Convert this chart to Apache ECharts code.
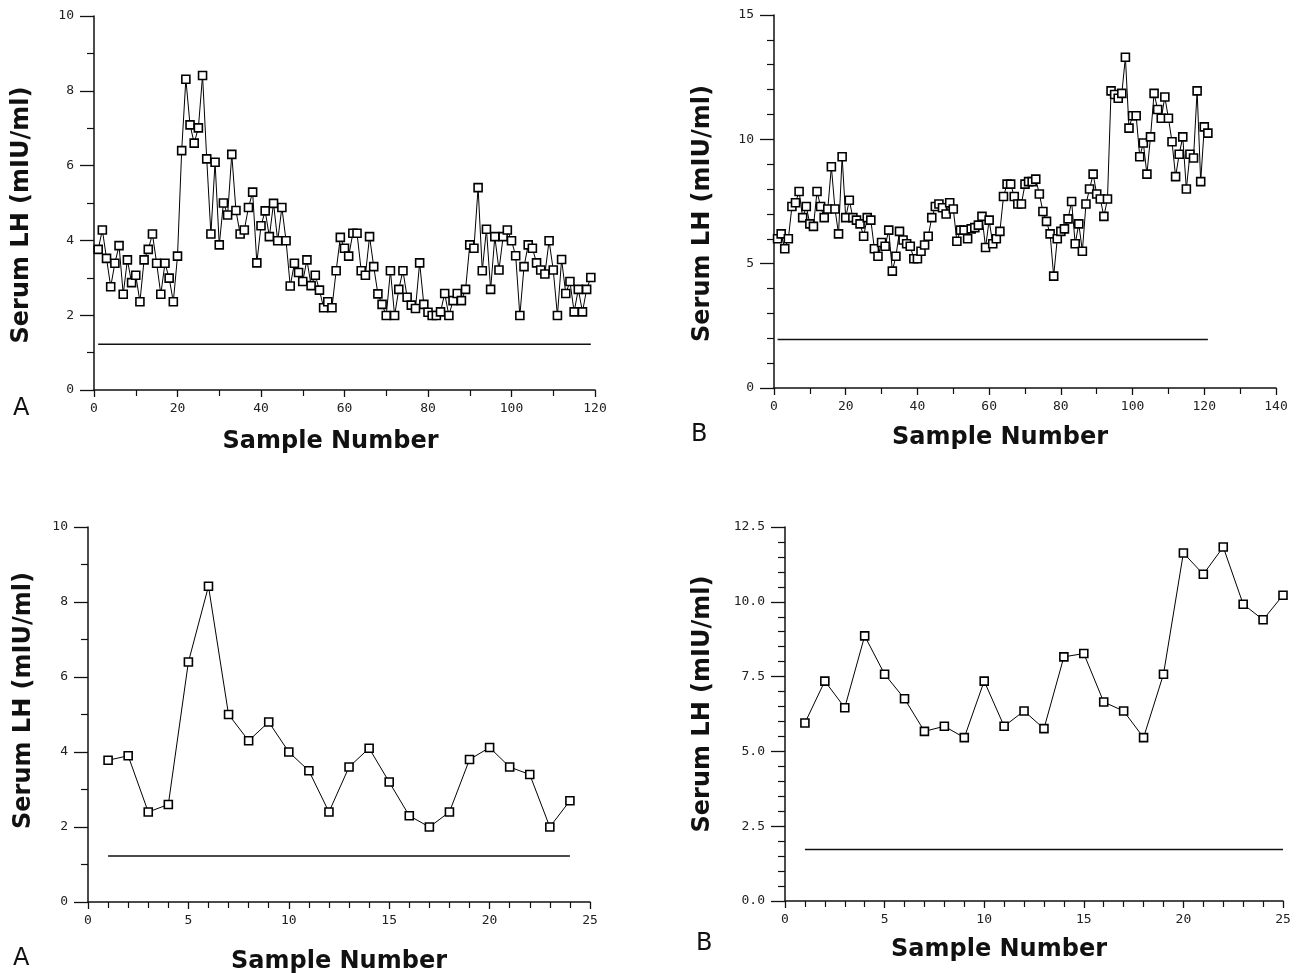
<!DOCTYPE html>
<html><head><meta charset="utf-8">
<script src="https://cdn.jsdelivr.net/npm/echarts@6/dist/echarts.min.js"></script>
<style>html,body{margin:0;padding:0;background:#fff}#c{width:1301px;height:973px}</style>
</head><body><div id="c"></div>
<script>
// Serum LH (mIU/ml) per sample, samples numbered from 1
const lhTopA = [3.76,4.28,3.52,2.76,3.39,3.86,2.56,3.48,2.87,3.07,2.36,3.48,3.76,4.17,3.39,2.56,3.39,2.99,2.36,3.58,
  6.4,8.31,7.09,6.6,7.01,8.41,6.18,4.17,6.09,3.88,5.0,4.68,6.3,4.8,4.17,4.28,4.88,5.29,3.4,4.39,
  4.79,4.1,4.99,3.99,4.88,3.99,2.78,3.39,3.14,2.9,3.48,2.79,3.07,2.67,2.2,2.36,2.2,3.19,4.08,3.79,
  3.58,4.19,4.19,3.19,3.07,4.1,3.3,2.57,2.29,1.99,3.19,1.99,2.69,3.19,2.48,2.27,2.18,3.4,2.29,2.08,
  1.99,1.99,2.09,2.58,1.99,2.39,2.58,2.39,2.69,3.88,3.79,5.41,3.19,4.3,2.69,4.1,3.21,4.1,4.28,3.99,
  3.59,1.99,3.3,3.88,3.79,3.4,3.21,3.1,3.99,3.21,1.99,3.49,2.58,2.9,2.09,2.69,2.09,2.69,3.01];
const lhTopB = [6.0,6.2,5.6,6.0,7.3,7.45,7.9,6.85,7.3,6.6,6.5,7.9,7.3,6.85,7.2,8.9,7.2,6.2,9.3,6.85,
  7.55,6.85,6.75,6.6,6.1,6.85,6.75,5.6,5.3,5.85,5.7,6.35,4.7,5.3,6.3,5.95,5.8,5.7,5.2,5.2,
  5.5,5.75,6.1,6.85,7.3,7.4,7.25,7.0,7.45,7.2,5.9,6.35,6.35,6.0,6.4,6.45,6.55,6.9,5.65,6.75,
  5.8,6.0,6.3,7.7,8.2,8.2,7.7,7.4,7.4,8.2,8.3,8.3,8.4,7.8,7.1,6.7,6.2,4.5,6.0,6.3,
  6.4,6.8,7.5,5.8,6.6,5.5,7.4,8.0,8.6,7.8,7.6,6.9,7.6,11.95,11.8,11.65,11.85,13.3,10.45,10.95,
  10.95,9.3,9.85,8.6,10.1,11.85,11.2,10.85,11.7,10.85,9.9,8.5,9.4,10.1,8.0,9.4,9.25,11.95,8.3,10.5,10.25];
const lhBottomA = [3.78,3.9,2.4,2.6,6.4,8.42,5.0,4.3,4.8,4.0,3.5,2.4,3.6,4.1,3.2,2.3,2.0,2.4,3.8,4.12,3.6,3.4,2.0,2.7];
const lhBottomB = [5.95,7.35,6.46,8.86,7.58,6.76,5.67,5.84,5.46,7.35,5.84,6.35,5.76,8.16,8.27,6.65,6.35,5.46,7.58,11.63,10.92,11.83,9.92,9.4,10.22];
// horizontal reference level in each panel
const thresholdTopA = 1.22, thresholdTopB = 1.95, thresholdBottomA = 1.23, thresholdBottomB = 1.72;
// tick labels
const xTicksTopA = [0,20,40,60,80,100,120];
const yTicksTopA = [0,2,4,6,8,10];
const xTicksTopB = [0,20,40,60,80,100,120,140];
const yTicksTopB = [0,5,10,15];
const xTicksBottomA = [0,5,10,15,20,25];
const yTicksBottomA = [0,2,4,6,8,10];
const xTicksBottomB = [0,5,10,15,20,25];
const yTicksBottomB = [0,2.5,5,7.5,10,12.5];
const xTitle = 'Sample Number';
const yTitle = 'Serum LH (mIU/ml)';
const panelLetters = ['A','B','A','B'];

const panels = [
  {vals: lhTopA, thr: thresholdTopA, xt: xTicksTopA, yt: yTicksTopA, xMinor: 2, yMinor: 2, dec: 0,
   grid: {left: 94, top: 16, width: 501, height: 374}, xGap: 40, xPad: [0,28,0,0], yGap: 60, yPad: [0,24,0,0]},
  {vals: lhTopB, thr: thresholdTopB, xt: xTicksTopB, yt: yTicksTopB, xMinor: 2, yMinor: 5, dec: 0,
   grid: {left: 774, top: 15, width: 502, height: 373}, xGap: 38, xPad: [0,50,0,0], yGap: 59, yPad: [0,24,0,0]},
  {vals: lhBottomA, thr: thresholdBottomA, xt: xTicksBottomA, yt: yTicksBottomA, xMinor: 5, yMinor: 2, dec: 0,
   grid: {left: 88, top: 527, width: 502, height: 375}, xGap: 48, xPad: [0,0,0,0], yGap: 52, yPad: [0,0,0,28]},
  {vals: lhBottomB, thr: thresholdBottomB, xt: xTicksBottomB, yt: yTicksBottomB, xMinor: 5, yMinor: 5, dec: 1,
   grid: {left: 785, top: 527, width: 498, height: 374}, xGap: 37, xPad: [0,70,0,0], yGap: 70, yPad: [0,0,0,20]}
];

const monoFont = 'DejaVu Sans Mono';
const titleStyle = {fontFamily: 'DejaVu Sans', fontWeight: 'bold', fontSize: 24, color: '#111'};

const grids = [], xAxes = [], yAxes = [], series = [];
panels.forEach((p, i) => {
  grids.push(Object.assign({outerBoundsMode: 'none', containLabel: false}, p.grid));
  xAxes.push({
    type: 'value', gridIndex: i,
    min: p.xt[0], max: p.xt[p.xt.length - 1], interval: p.xt[1] - p.xt[0],
    name: xTitle, nameLocation: 'middle', nameGap: p.xGap, nameMoveOverlap: false,
    nameTextStyle: Object.assign({padding: p.xPad}, titleStyle),
    axisLine: {show: true, onZero: false, lineStyle: {color: '#111', width: 1.5}},
    axisTick: {show: true, inside: false, length: 7, lineStyle: {color: '#111', width: 1.3}},
    minorTick: {show: true, splitNumber: p.xMinor, length: 6, lineStyle: {color: '#111', width: 1.2}},
    splitLine: {show: false}, minorSplitLine: {show: false},
    axisLabel: {margin: 12, fontFamily: monoFont, fontSize: 13, color: '#222'}
  });
  yAxes.push({
    type: 'value', gridIndex: i,
    min: p.yt[0], max: p.yt[p.yt.length - 1], interval: p.yt[1] - p.yt[0],
    name: yTitle, nameLocation: 'middle', nameGap: p.yGap, nameRotate: 90, nameMoveOverlap: false,
    nameTextStyle: Object.assign({padding: p.yPad}, titleStyle),
    axisLine: {show: true, onZero: false, lineStyle: {color: '#111', width: 1.5}},
    axisTick: {show: true, inside: false, length: 14, lineStyle: {color: '#111', width: 1.3}},
    minorTick: {show: true, splitNumber: p.yMinor, length: 7, lineStyle: {color: '#111', width: 1.2}},
    splitLine: {show: false}, minorSplitLine: {show: false},
    axisLabel: {margin: 20, fontFamily: monoFont, fontSize: 13, color: '#222',
      formatter: v => v.toFixed(p.dec)}
  });
  series.push({
    type: 'line', xAxisIndex: i, yAxisIndex: i,
    data: p.vals.map((v, k) => [k + 1, v]),
    symbol: 'rect', symbolSize: 8, showSymbol: true,
    lineStyle: {color: '#000', width: 1},
    itemStyle: {color: '#fff', borderColor: '#000', borderWidth: 1.6},
    emphasis: {disabled: true}, animation: false, z: 3
  });
  series.push({
    type: 'line', xAxisIndex: i, yAxisIndex: i,
    data: [[1, p.thr], [p.vals.length, p.thr]],
    symbol: 'none', lineStyle: {color: '#111', width: 1.5},
    emphasis: {disabled: true}, animation: false, z: 2
  });
});

const letterPos = [[22, 410], [700, 436], [22, 960], [705, 945]];
const graphic = panelLetters.map((t, i) => ({
  type: 'text', left: letterPos[i][0] - 9, top: letterPos[i][1] - 13,
  style: {text: t, fontFamily: 'DejaVu Sans', fontSize: 24, fill: '#111'}
}));

const chart = echarts.init(document.getElementById('c'), null, {renderer: 'canvas'});
chart.setOption({
  animation: false, backgroundColor: '#fff',
  grid: grids, xAxis: xAxes, yAxis: yAxes, series: series, graphic: graphic,
  tooltip: {show: false}
});
</script></body></html>
